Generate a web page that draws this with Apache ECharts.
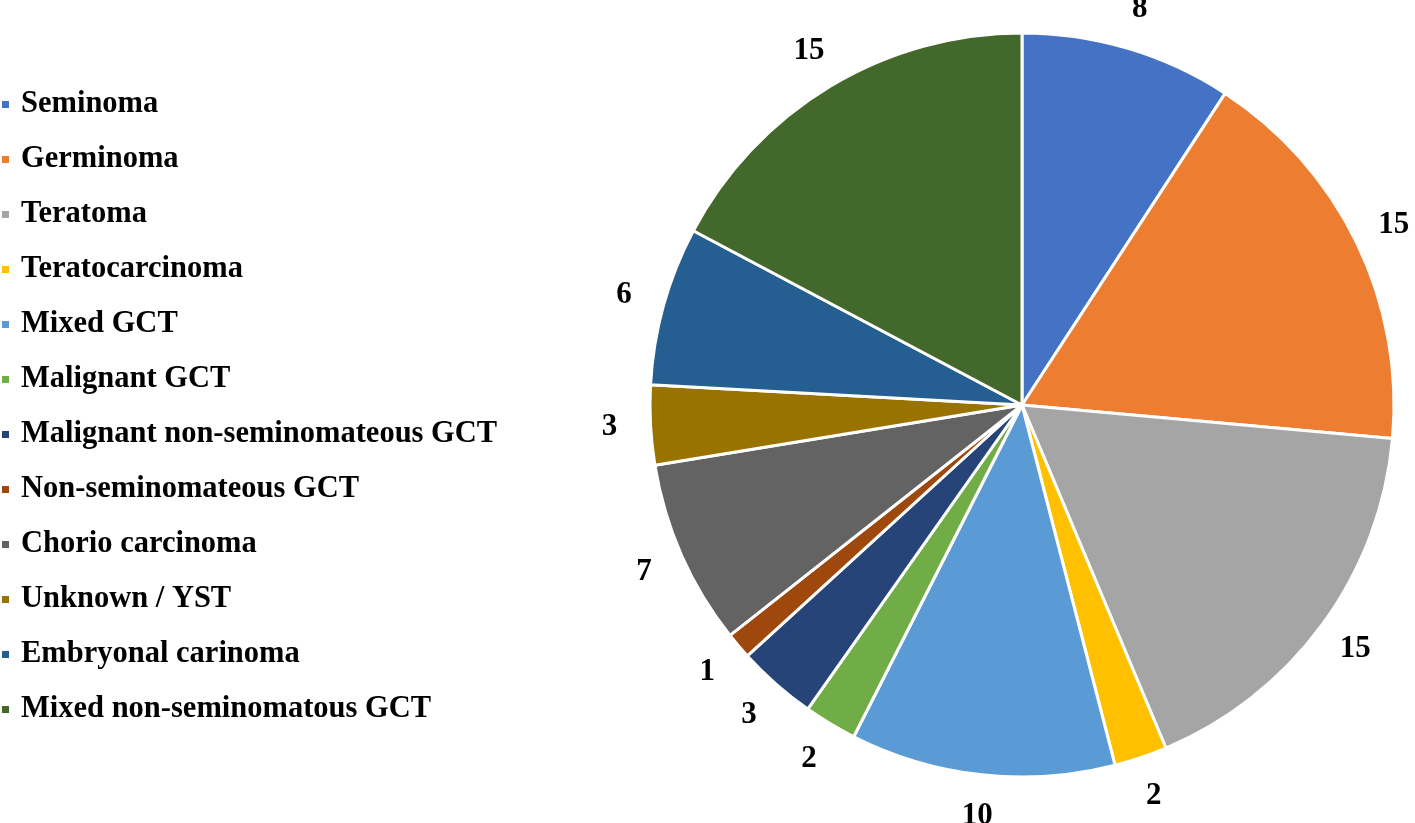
<!DOCTYPE html>
<html>
<head>
<meta charset="utf-8">
<script src="https://cdn.jsdelivr.net/npm/echarts@6/dist/echarts.min.js"></script>
<style>
html,body{margin:0;padding:0;background:#fff;}
#chart{width:1415px;height:823px;}
</style>
</head>
<body>
<div id="chart"></div>
<script>
const categories = ["Seminoma","Germinoma","Teratoma","Teratocarcinoma","Mixed GCT","Malignant GCT","Malignant non-seminomateous GCT","Non-seminomateous GCT","Chorio carcinoma","Unknown / YST","Embryonal carinoma","Mixed non-seminomatous GCT"];
const values = [8,15,15,2,10,2,3,1,7,3,6,15];
const colors = ["#4472C4","#ED7D31","#A5A5A5","#FFC000","#5B9BD5","#70AD47","#264478","#9E480E","#636363","#997300","#255E91","#43682B"];

const font = '"Liberation Serif","Times New Roman",serif';
const data = categories.map((c,i)=>({name:c,value:values[i]}));

const chart = echarts.init(document.getElementById('chart'));
chart.setOption({
  animation:false,
  color:colors,
  legend:{
    orient:'vertical',
    left:0, top:89,
    padding:0,
    icon:'rect',
    itemWidth:9, itemHeight:9,
    itemGap:24,
    selectedMode:false,
    textStyle:{fontFamily:font,fontWeight:'bold',fontSize:30.5,color:'#000',lineHeight:31,padding:[0,0,0,6]},
    data:categories
  },
  series:[
    {
      type:'pie',
      center:[1022,405],
      radius:[0,372],
      startAngle:90,
      clockwise:true,
      silent:true,
      itemStyle:{borderColor:'#fff',borderWidth:3},
      label:{show:false},
      labelLine:{show:false},
      emphasis:{disabled:true},
      data:data
    },
    {
      type:'pie',
      center:[1022,405],
      radius:[395,425],
      startAngle:90,
      clockwise:true,
      silent:true,
      itemStyle:{color:'rgba(0,0,0,0)'},
      label:{show:true,position:'inside',formatter:'{c}',fontFamily:font,fontWeight:'bold',fontSize:31,color:'#000'},
      labelLine:{show:false},
      emphasis:{disabled:true},
      data:data
    }
  ]
});
</script>
</body>
</html>
